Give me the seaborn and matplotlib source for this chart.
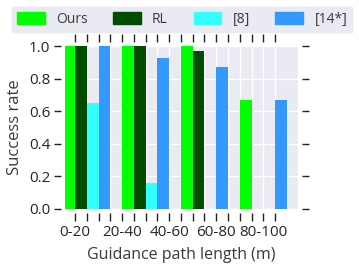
import numpy as np
import pandas as pd
import matplotlib
matplotlib.use("Agg")
import matplotlib.pyplot as plt
import seaborn as sns

# ---- data ----
tick_labels = ["0-20", "20-40", "40-60", "60-80", "80-100"]
groups = ["0-20", "20-40", "40-60", "60-80"]
methods = ["Ours", "RL", "[8]", "[14*]"]
ours = [1.0, 1.0, 1.0, 0.67]
rl = [1.0, 1.0, 0.97, 0.0]
ref8 = [0.65, 0.16, 0.0, 0.0]
ref14 = [1.0, 0.925, 0.87, 0.67]
colors = ["#00ff00", "#004d00", "#33ffff", "#3399ff"]

rows = []
for m, vals in zip(methods, [ours, rl, ref8, ref14]):
    for g, v in zip(groups, vals):
        rows.append({"range": g, "method": m, "rate": v})
df = pd.DataFrame(rows)

sns.set_theme(style="darkgrid")
plt.rcParams["font.family"] = ["Open Sans", "DejaVu Sans"]

fig = plt.figure(figsize=(3.59, 2.75), dpi=100)
ax = fig.add_axes([65/359, 1-209/275, 233/359, 163/275])

sns.barplot(data=df, x="range", y="rate", hue="method", order=groups,
            hue_order=methods, palette=colors, saturation=1, width=0.8,
            linewidth=0, errorbar=None, ax=ax)

xt = np.arange(-0.2, 3.21, 0.2)
ax.set_xticks(xt)
labs = [""] * len(xt)
for i, t in enumerate(tick_labels):
    labs[i*4] = t
ax.set_xticklabels(labs, fontsize=10, color="#3a3a3a")
ax.set_xlim(-0.37, 3.59)
ax.set_ylim(0, 1.0)
ax.set_yticks(np.arange(0, 1.01, 0.2))
ax.set_yticklabels([f"{v:.1f}" for v in np.arange(0, 1.01, 0.2)], fontsize=10, color="#3a3a3a")

for s in ax.spines.values():
    s.set_visible(False)
    s.set_position(("outward", 3))
ax.tick_params(axis="both", which="both", direction="out", length=5, width=1,
               color="#222222", bottom=True, top=True, left=True, right=True,
               labelbottom=True, labeltop=False, labelleft=True, labelright=False,
               pad=2.5)
ax.tick_params(axis="x", length=6)
ax.grid(True, color="white", linewidth=1)

ax.set_xlabel("Guidance path length (m)", fontsize=11.5, color="#3a3a3a", labelpad=5)
ax.set_ylabel("Success rate", fontsize=12, color="#3a3a3a", labelpad=4)

ax.get_legend().remove()
handles = [plt.Rectangle((0, 0), 1, 1, color=c) for c in colors]
leg = fig.legend(handles, methods, loc="lower left",
                 bbox_to_anchor=(12/359, 1-32/275, 340/359, 27/275),
                 mode="expand", ncol=4, frameon=True, fancybox=False,
                 facecolor="#eaeaf2", edgecolor="#eaeaf2", framealpha=1,
                 fontsize=10, handlelength=2.0, handleheight=0.95,
                 borderaxespad=0, borderpad=0.35)
for t in leg.get_texts():
    t.set_color("#3a3a3a")

fig.savefig("out.png", dpi=100)
